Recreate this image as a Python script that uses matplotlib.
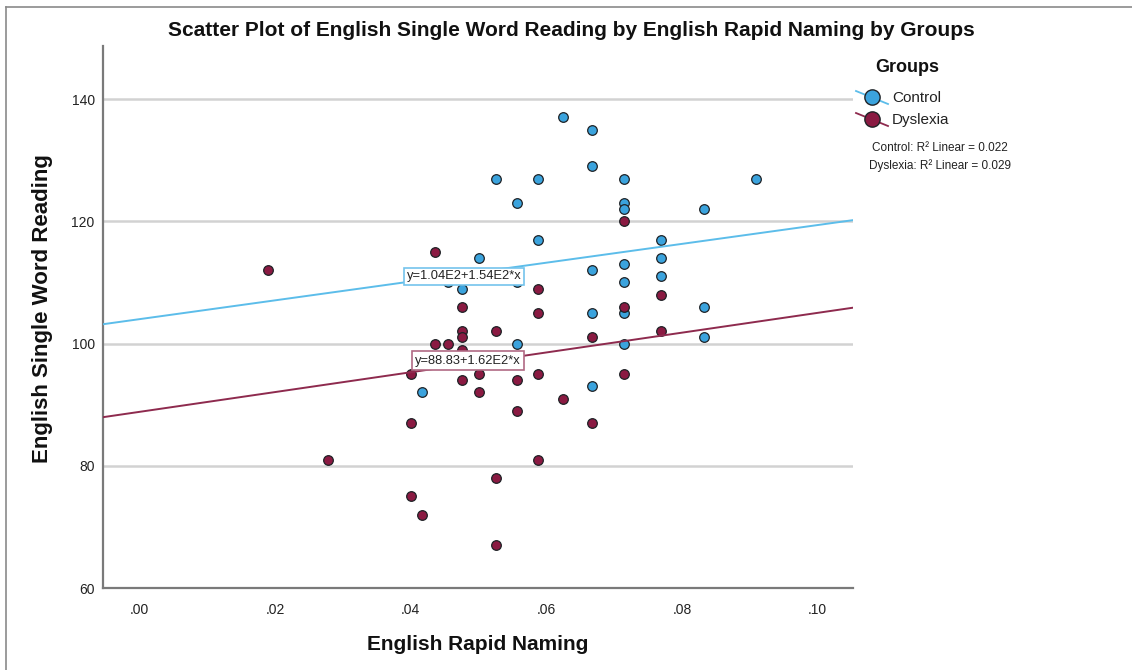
import numpy as np
import matplotlib
matplotlib.use("Agg")
import matplotlib.pyplot as plt
from matplotlib.lines import Line2D

plt.rcParams['font.family'] = ['Liberation Sans', 'DejaVu Sans']

# English Rapid Naming (x) and English Single Word Reading (y) per group
control_rn = [0.0625, 0.0667, 0.0667, 0.0526, 0.0588, 0.0714, 0.0909, 0.0556,
              0.0714, 0.0714, 0.0833, 0.0588, 0.0769, 0.0500, 0.0769, 0.0714,
              0.0667, 0.0769, 0.0714, 0.0455, 0.0556, 0.0476, 0.0714, 0.0667,
              0.0833, 0.0556, 0.0714, 0.0833, 0.0667, 0.0417]
control_swr = [137, 135, 129, 127, 127, 127, 127, 123,
               123, 122, 122, 117, 117, 114, 114, 113,
               112, 111, 110, 110, 110, 109, 105, 105,
               106, 100, 100, 101, 93, 92]

dyslexia_rn = [0.0189, 0.0435, 0.0714, 0.0476, 0.0588, 0.0588, 0.0714, 0.0769,
               0.0769, 0.0667, 0.0526, 0.0476, 0.0476, 0.0435, 0.0455, 0.0476,
               0.0400, 0.0476, 0.0500, 0.0556, 0.0588, 0.0714, 0.0500, 0.0625,
               0.0556, 0.0400, 0.0667, 0.0588, 0.0278, 0.0526, 0.0400, 0.0417,
               0.0526]
dyslexia_swr = [112, 115, 120, 106, 109, 105, 106, 108,
                102, 101, 102, 102, 101, 100, 100, 99,
                95, 94, 95, 94, 95, 95, 92, 91,
                89, 87, 87, 81, 81, 78, 75, 72,
                67]

# Fitted linear models (intercept, slope) and R-squared values
control_fit = (104.0, 154.0)
dyslexia_fit = (88.83, 162.0)
control_r2 = 0.022
dyslexia_r2 = 0.029

group_names = ["Control", "Dyslexia"]
x_ticks = [0.00, 0.02, 0.04, 0.06, 0.08, 0.10]
x_tick_labels = [".00", ".02", ".04", ".06", ".08", ".10"]
y_ticks = [60, 80, 100, 120, 140]

BLUE = "#3ba3dd"
MAROON = "#8a1a42"
BLUE_LINE = "#5cbdea"
MAROON_LINE = "#8e2a4e"
EDGE = "#1e2226"

W, H = 1132, 670
fig = plt.figure(figsize=(W / 100, H / 100), dpi=100)


def fx(px):
    return px / W


def fy(py):
    return 1 - py / H


ax = fig.add_axes([fx(103), fy(588), fx(853) - fx(103), fy(46) - fy(588)])
ax.set_xlim(-0.0054, 0.1052)
ax.set_ylim(60, 148.7)

for sp in ("top", "right"):
    ax.spines[sp].set_visible(False)
for sp in ("left", "bottom"):
    ax.spines[sp].set_color("#7a7a7a")
    ax.spines[sp].set_linewidth(1.6)

ax.set_yticks(y_ticks)
ax.set_xticks(x_ticks)
ax.set_xticklabels(x_tick_labels)
ax.tick_params(axis="both", length=0, labelsize=10, colors="#222222")
ax.tick_params(axis="x", pad=11)
ax.tick_params(axis="y", pad=6)
ax.yaxis.grid(True, color="#d2d2d2", linewidth=1.8)
ax.set_axisbelow(True)

ax.scatter(control_rn, control_swr, s=48, facecolor=BLUE, edgecolor=EDGE,
           linewidth=0.9, zorder=3)
ax.scatter(dyslexia_rn, dyslexia_swr, s=48, facecolor=MAROON, edgecolor=EDGE,
           linewidth=0.9, zorder=3)

xs = np.array(ax.get_xlim())
ax.plot(xs, control_fit[0] + control_fit[1] * xs, color=BLUE_LINE, lw=1.4,
        zorder=4)
ax.plot(xs, dyslexia_fit[0] + dyslexia_fit[1] * xs, color=MAROON_LINE, lw=1.4,
        zorder=4)

ax.text(0.0479, 111.0, "y=1.04E2+1.54E2*x", ha="center", va="center",
        fontsize=9.3, color="#222222", zorder=5,
        bbox=dict(boxstyle="square,pad=0.2", facecolor="white",
                  edgecolor="#74c4ec", linewidth=1.2))
ax.text(0.0484, 97.2, "y=88.83+1.62E2*x", ha="center", va="center",
        fontsize=9.3, color="#222222", zorder=5,
        bbox=dict(boxstyle="square,pad=0.25", facecolor="white",
                  edgecolor="#b06a84", linewidth=1.2))

ax.set_xlim(xs)

# Titles
fig.text(fx(571), fy(31), "Scatter Plot of English Single Word Reading by "
         "English Rapid Naming by Groups", ha="center", va="center",
         fontsize=15, fontweight="bold", color="#111111")
fig.text(fx(478), fy(645), "English Rapid Naming", ha="center", va="center",
         fontsize=15, fontweight="bold", color="#111111")
fig.text(fx(43), fy(309), "English Single Word Reading", ha="center",
         va="center", rotation=90, fontsize=16, fontweight="bold",
         color="#111111")

# Legend
fig.text(fx(907), fy(68), "Groups", ha="center", va="center", fontsize=13,
         fontweight="bold", color="#111111")
legend_rows = [(group_names[0], BLUE, BLUE_LINE, 98),
               (group_names[1], MAROON, MAROON_LINE, 120)]
for name, face, line_c, py in legend_rows:
    fig.add_artist(Line2D([fx(856), fx(888)], [fy(py - 7), fy(py + 6)],
                          color=line_c, lw=1.3, transform=fig.transFigure))
    fig.add_artist(Line2D([fx(872)], [fy(py - 1)], marker="o", markersize=11,
                          markerfacecolor=face, markeredgecolor=EDGE,
                          markeredgewidth=1.0, linestyle="none",
                          transform=fig.transFigure))
    fig.text(fx(892), fy(py), name, ha="left", va="center", fontsize=11,
             color="#222222")

fig.text(fx(940), fy(148), f"Control: R\u00b2 Linear = {control_r2:.3f}",
         ha="center", va="center", fontsize=8.5, color="#222222")
fig.text(fx(940), fy(166), f"Dyslexia: R\u00b2 Linear = {dyslexia_r2:.3f}",
         ha="center", va="center", fontsize=8.5, color="#222222")

# Outer frame
fig.add_artist(Line2D([fx(6), fx(1132)], [fy(7), fy(7)], color="#8a8a8a",
                      lw=1.2, transform=fig.transFigure))
fig.add_artist(Line2D([fx(6), fx(6)], [fy(7), fy(670)], color="#8a8a8a",
                      lw=1.2, transform=fig.transFigure))

fig.savefig("out.png", dpi=100, facecolor="white")
